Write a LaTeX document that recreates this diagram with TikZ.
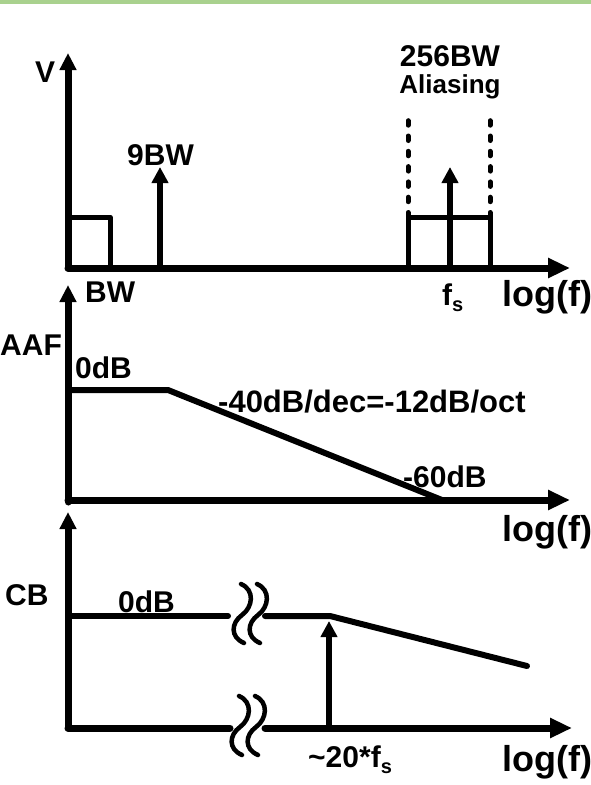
\documentclass[tikz,border=0pt]{standalone}
\usepackage{fontspec}
\setmainfont{Liberation Sans}
\usetikzlibrary{arrows.meta}
\definecolor{bargreen}{HTML}{A9D18E}
\begin{document}
\begin{tikzpicture}[x=1pt,y=-1pt,
  axis/.style={line width=7pt, line cap=round, line join=round},
  curve/.style={line width=6pt, line cap=round, line join=round},
  boxl/.style={line width=5pt, line cap=round, line join=round},
  xarr/.style={-{Triangle[length=22pt,width=19pt]}},
  yarr/.style={-{Triangle[length=17pt,width=16pt]}},
  imp/.style={line width=5.5pt, -{Triangle[length=16pt,width=16pt]}},
  lab/.style={inner sep=0pt, anchor=base west, font=\fontsize{30}{30}\selectfont\bfseries},
  labc/.style={inner sep=0pt, anchor=base, font=\fontsize{30}{30}\selectfont\bfseries},
  logf/.style={inner sep=0pt, anchor=base west, font=\fontsize{36}{36}\selectfont\bfseries},
  brk/.style={line width=4.5pt, line cap=round},
  dashv/.style={line width=5pt, line cap=round, dash pattern=on 4.5pt off 10.8pt},
]
\useasboundingbox (0,0) rectangle (591,785);
\fill[bargreen] (0,0) rectangle (591,4);

% ---------- panel 1 ----------
\coordinate (o1) at (68,268);
\coordinate (y1) at (68,53);
\coordinate (x1) at (570,268);
\draw[axis,yarr] (o1) -- (y1);
\draw[axis,xarr] (o1) -- (x1);
\coordinate (b1a) at (68,217);
\coordinate (b1b) at (110,217);
\coordinate (b1c) at (110,268);
\draw[boxl] (b1a) -- (b1b) -- (b1c);
\coordinate (i1a) at (160,268);
\coordinate (i1b) at (160,167);
\draw[imp] (i1a) -- (i1b);
\coordinate (r1) at (408,268);
\coordinate (r2) at (408,217);
\coordinate (r3) at (490,217);
\coordinate (r4) at (490,268);
\draw[boxl] (r1) -- (r2) -- (r3) -- (r4);
\coordinate (d1) at (408,110);
\coordinate (d2) at (490,110);
\draw[dashv] (r2) -- (d1);
\draw[dashv] (r3) -- (d2);
\coordinate (i2a) at (450,268);
\coordinate (i2b) at (450,167);
\draw[imp] (i2a) -- (i2b);

\node[lab] (lv) at (35,82) {V};
\node[lab] (l9bw) at (127,165) {9BW};
\node[lab] (lbw) at (85,302) {BW};
\node[labc] (l256) at (450,66) {256BW};
\node[labc, font=\fontsize{26}{26}\selectfont\bfseries] (lalias) at (450,93) {Aliasing};
\node[lab] (lfs) at (442,305) {f\raisebox{-6pt}{\fontsize{20}{20}\selectfont s}};
\node[logf] (llog1) at (502,306) {log(f)};

% ---------- panel 2 ----------
\coordinate (o2) at (68,502);
\coordinate (y2) at (68,285);
\coordinate (o2x) at (68,500);
\coordinate (x2) at (570,500);
\draw[axis,yarr] (o2) -- (y2);
\draw[axis,xarr] (o2x) -- (x2);
\coordinate (c2a) at (68,390);
\coordinate (c2b) at (168,390);
\coordinate (c2c) at (442,500);
\draw[curve] (c2a) -- (c2b) -- (c2c);

\node[lab] (laaf) at (0,355) {AAF};
\node[lab] (l0db2) at (75,378) {0dB};
\node[lab, font=\fontsize{31}{31}\selectfont\bfseries] (lslope) at (218,412) {-40dB/dec=-12dB/oct};
\node[lab] (l60) at (403,487) {-60dB};
\node[logf] (llog2) at (502,541) {log(f)};

% ---------- panel 3 ----------
\coordinate (o3) at (68,728);
\coordinate (y3) at (68,512);
\coordinate (x3a) at (230,728);
\coordinate (x3b) at (265,728);
\coordinate (x3) at (572,728);
\draw[axis,yarr] (o3) -- (y3);
\draw[axis] (o3) -- (x3a);
\draw[axis,xarr] (x3b) -- (x3);
\coordinate (t3a) at (68,616);
\coordinate (t3b) at (228,616);
\coordinate (t3c) at (265,616);
\coordinate (t3d) at (330,616);
\coordinate (t3e) at (527,666);
\draw[curve] (t3a) -- (t3b);
\draw[curve] (t3c) -- (t3d) -- (t3e);
\coordinate (a3a) at (329,728);
\coordinate (a3b) at (329,621);
\draw[imp] (a3a) -- (a3b);

\foreach \cx/\cy in {242/615, 258/615, 240/727, 256/727}{
  \draw[brk] (\cx,\cy) ++(-1,-31) .. controls ++(14,6) and ++(11,-8) .. (\cx,\cy)
             .. controls ++(-11,8) and ++(-14,-6) .. ++(2,28);
}

\node[lab] (lcb) at (5,605) {CB};
\node[lab] (l0db3) at (118,612) {0dB};
\node[lab] (l20) at (308,767) {\textasciitilde20*f\raisebox{-6pt}{\fontsize{20}{20}\selectfont s}};
\node[logf] (llog3) at (502,771) {log(f)};
\end{tikzpicture}
\end{document}
